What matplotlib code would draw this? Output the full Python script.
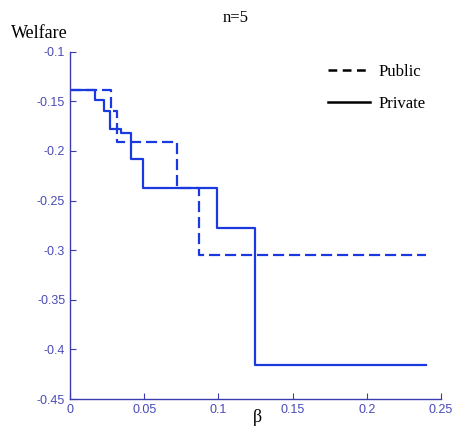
import matplotlib
matplotlib.use("Agg")
import matplotlib.pyplot as plt
from matplotlib.lines import Line2D

# Data (step functions, values hold until next breakpoint)
private_beta = [0, 0.017, 0.0232, 0.027, 0.0345, 0.0412, 0.0495, 0.099, 0.1246, 0.24]
private_welfare = [-0.139, -0.149, -0.160, -0.178, -0.182, -0.208, -0.237, -0.278, -0.416, -0.416]
public_beta = [0, 0.0277, 0.032, 0.072, 0.0867, 0.24]
public_welfare = [-0.139, -0.160, -0.191, -0.237, -0.305, -0.305]

xticks = [0, 0.05, 0.1, 0.15, 0.2, 0.25]
xticklabels = ["0", "0.05", "0.1", "0.15", "0.2", "0.25"]
yticks = [-0.1, -0.15, -0.2, -0.25, -0.3, -0.35, -0.4, -0.45]
yticklabels = ["-0.1", "-0.15", "-0.2", "-0.25", "-0.3", "-0.35", "-0.4", "-0.45"]

line_color = "#1a3ae0"
axis_color = "#3b3bb0"

fig = plt.figure(figsize=(4.55, 4.37), dpi=100)
ax = fig.add_axes([70/455, 1-399/437, (441-70)/455, (399-51.7)/437])

ax.step(public_beta, public_welfare, where="post", color=line_color, lw=1.6,
        linestyle=(0, (5, 2.2)))
ax.step(private_beta, private_welfare, where="post", color=line_color, lw=1.6)

ax.set_xlim(0, 0.25)
ax.set_ylim(-0.45, -0.1)
ax.set_xticks(xticks)
ax.set_xticklabels(xticklabels)
ax.set_yticks(yticks)
ax.set_yticklabels(yticklabels)

for s in ["top", "right"]:
    ax.spines[s].set_visible(False)
for s in ["left", "bottom"]:
    ax.spines[s].set_color(axis_color)
    ax.spines[s].set_linewidth(1.0)
ax.tick_params(direction="in", colors=axis_color, labelsize=9, length=4, width=0.8)
for lab in ax.get_xticklabels() + ax.get_yticklabels():
    lab.set_fontfamily("Liberation Sans")
    lab.set_color("#4a4ab8")

serif = "Liberation Serif"
fig.text(236/455, 1-18.5/437, "n=5", ha="center", va="center", fontsize=12, family=serif)
fig.text(11/455, 1-33/437, "Welfare", ha="left", va="center", fontsize=13, family=serif)
fig.text(257/455, 1-418/437, "β", ha="center", va="center", fontsize=13, family=serif)

handles = [Line2D([], [], color="black", lw=1.8, linestyle=(0, (3.5, 2.2))),
           Line2D([], [], color="black", lw=1.8)]
leg = fig.legend(handles, ["Public", "Private"], loc="upper left",
                 bbox_to_anchor=(313/455, 1-49/437), frameon=False,
                 prop={"family": serif, "size": 12}, handlelength=2.5,
                 labelspacing=0.95, handletextpad=0.55)

fig.savefig("out.png", dpi=100)
